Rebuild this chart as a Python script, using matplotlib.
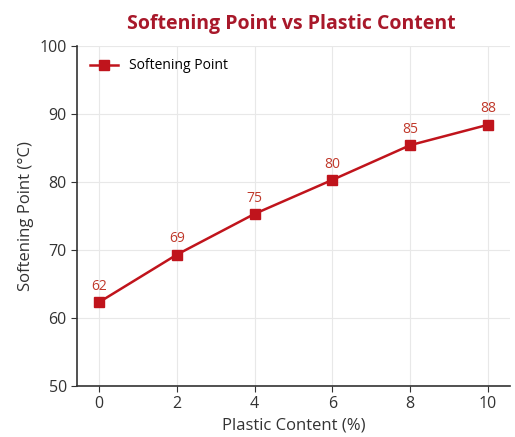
import matplotlib
matplotlib.use("Agg")
import matplotlib.pyplot as plt

plt.rcParams['font.family'] = ['Open Sans', 'DejaVu Sans']

plastic_content = [0, 2, 4, 6, 8, 10]
softening_point = [62.3, 69.3, 75.3, 80.3, 85.4, 88.4]
point_labels = ["62", "69", "75", "80", "85", "88"]
x_ticks = [0, 2, 4, 6, 8, 10]
y_ticks = [50, 60, 70, 80, 90, 100]

fig = plt.figure(figsize=(5.15, 4.37), dpi=100)
ax = fig.add_axes([0.150, 0.117, 0.840, 0.778])

line_color = '#c0141c'
ax.plot(plastic_content, softening_point, color=line_color, marker='s',
        markersize=6.5, linewidth=1.8, label='Softening Point')
for x, y, t in zip(plastic_content, softening_point, point_labels):
    ax.annotate(t, (x, y), xytext=(0, 6), textcoords='offset points',
                ha='center', va='bottom', color='#c0392b', fontsize=10)

ax.set_xlim(-0.56, 10.56)
ax.set_ylim(50, 100)
ax.set_xticks(x_ticks)
ax.set_yticks(y_ticks)
ax.tick_params(labelsize=11.5, colors='#333333', length=4)
ax.grid(True, color='#e8e8e8', linewidth=0.8)
ax.set_axisbelow(True)
for s in ['top', 'right']:
    ax.spines[s].set_visible(False)
for s in ['left', 'bottom']:
    ax.spines[s].set_color('#333333')
    ax.spines[s].set_linewidth(1.2)

ax.set_xlabel('Plastic Content (%)', fontsize=12, color='#333333')
ax.set_ylabel('Softening Point (°C)', fontsize=12, color='#333333')
fig.text(0.565, 0.945, 'Softening Point vs Plastic Content', ha='center', va='center',
         fontsize=14, fontweight='bold', color='#a8182a')
ax.legend(loc='upper left', frameon=False, fontsize=10)

fig.savefig('out.png', dpi=100)
